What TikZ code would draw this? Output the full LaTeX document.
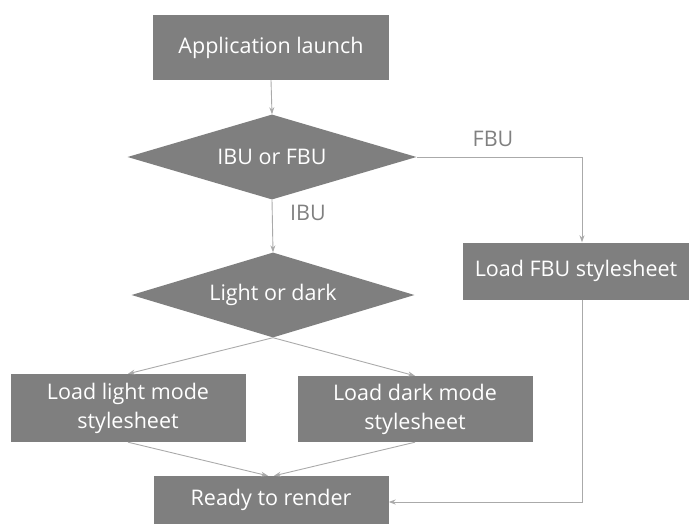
\documentclass[tikz,border=0pt]{standalone}
\usepackage{fontspec}
\setmainfont{Open Sans}
\usetikzlibrary{shapes.geometric,arrows.meta}
\definecolor{boxgray}{RGB}{127,127,127}
\definecolor{linegray}{RGB}{170,170,170}
\definecolor{labgray}{RGB}{128,128,128}
\begin{document}
\begin{tikzpicture}[x=1pt,y=-1pt,
  procbox/.style={rectangle,fill=boxgray,text=white,inner sep=0pt,font=\fontsize{21.5}{29}\selectfont,align=center},
  decbox/.style={diamond,fill=boxgray,text=white,inner sep=0pt,font=\fontsize{21.5}{29}\selectfont,aspect=3.4},
  conn/.style={draw=linegray,line width=0.9pt,-{Stealth[length=7pt,width=5pt]}},
  lab/.style={text=labgray,font=\fontsize{21.5}{29}\selectfont}]
\useasboundingbox (0,0) rectangle (689,525);
\node[procbox,minimum width=236pt,minimum height=65pt] (launch) at (271,47.5) {Application launch};
\node[decbox,minimum width=289pt,minimum height=85pt] (ibu) at (272,157) {IBU or FBU};
\node[decbox,minimum width=283pt,minimum height=85pt] (light) at (273,295) {Light or dark};
\node[procbox,minimum width=235pt,minimum height=68pt] (lmode) at (128,408) {Load light mode\\stylesheet};
\node[procbox,minimum width=235pt,minimum height=66pt] (dmode) at (415,409) {Load dark mode\\stylesheet};
\node[procbox,minimum width=226pt,minimum height=57pt] (fbu) at (576,271) {Load FBU stylesheet};
\node[procbox,minimum width=235pt,minimum height=48pt] (ready) at (271,500) {Ready to render};
\node[lab] (ibulab) at (308,213) {IBU};
\node[lab] (fbulab) at (493,139) {FBU};
\coordinate (c1) at (582,157);
\coordinate (c2) at (582,502);
\draw[conn] (launch.south) -- (ibu.north);
\draw[conn] (ibu.south) -- (light.north);
\draw[conn] (ibu.east) -- (c1) -- (fbu.north -| c1);
\draw[conn] (fbu.south -| c1) -- (c2) -- (ready.east |- c2);
\draw[conn] (light.south) -- (lmode.north);
\draw[conn] (light.south) -- (dmode.north);
\draw[conn] (lmode.south) -- ([xshift=-3pt]ready.north);
\draw[conn] (dmode.south) -- ([xshift=3pt]ready.north);
\end{tikzpicture}
\end{document}
